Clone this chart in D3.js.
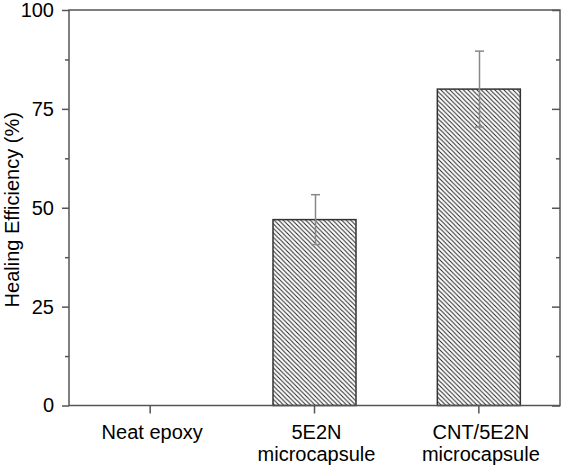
<!DOCTYPE html>
<html>
<head>
<meta charset="utf-8">
<script src="https://cdn.jsdelivr.net/npm/d3@7"></script>
<style>
  html, body { margin: 0; padding: 0; background: #fff; }
  svg { display: block; font-family: "Liberation Sans", Arial, sans-serif; }
</style>
</head>
<body>
<svg id="chart" width="562" height="465"></svg>
<script>
// ---- data ----
const categories = ["Neat epoxy", "5E2N\nmicrocapsule", "CNT/5E2N\nmicrocapsule"];
const values = [0, 47, 80];
const errors = [0, 6.3, 9.6];
const yTicks = [0, 25, 50, 75, 100];
const yMinorTicks = [12.5, 37.5, 62.5, 87.5];
const yTitle = "Healing Efficiency (%)";

// ---- layout ----
const svg = d3.select("#chart");
const mLeft = 69, mRight = 560, mTop = 10, mBottom = 405.5;
const axisColor = "#555";

const x = d3.scaleBand().domain(d3.range(categories.length)).range([68, 561]).paddingInner(0.49).paddingOuter(0.245);
const y = d3.scaleLinear().domain([0, 100]).range([mBottom, mTop]);

// hatch pattern
const defs = svg.append("defs");
const s = 4.5;
const pat = defs.append("pattern")
  .attr("id", "hatch").attr("patternUnits", "userSpaceOnUse")
  .attr("width", s).attr("height", s);
pat.append("path")
  .attr("d", `M0,0 L${s},${s} M-1,${s - 1} L1,${s + 1} M${s - 1},-1 L${s + 1},1`)
  .attr("stroke", "#222").attr("stroke-width", 1);

// bars
const bw = 83;
svg.append("g").selectAll("rect").data(values.map((v, i) => ({v, i})).filter(d => d.v > 0)).join("rect")
  .attr("x", d => x(d.i) + x.bandwidth() / 2 - bw / 2)
  .attr("y", d => y(d.v))
  .attr("width", bw)
  .attr("height", d => y(0) - y(d.v))
  .attr("fill", "url(#hatch)")
  .attr("stroke", "#333").attr("stroke-width", 1.5);

// error bars
const eg = svg.append("g").attr("stroke", "#888").attr("stroke-width", 1.5);
values.forEach((v, i) => {
  if (errors[i] <= 0) return;
  const cx = Math.round(x(i) + x.bandwidth() / 2) + 0.5;
  eg.append("line").attr("x1", cx).attr("x2", cx).attr("y1", y(v + errors[i])).attr("y2", y(v - errors[i]));
  [v + errors[i], v - errors[i]].forEach(e => {
    eg.append("line").attr("x1", cx - 4.5).attr("x2", cx + 4.5).attr("y1", y(e)).attr("y2", y(e));
  });
});

// left axis
const yAxis = d3.axisLeft(y).tickValues(yTicks).tickSize(7).tickPadding(8).tickFormat(d3.format("d"));
const gy = svg.append("g").attr("transform", `translate(${mLeft},0)`).call(yAxis);
gy.select(".domain").remove();
gy.selectAll(".tick line").attr("stroke", axisColor).attr("stroke-width", 1.5);
gy.selectAll(".tick text").attr("font-size", 20).attr("fill", "#000");
const gyMinor = svg.append("g").attr("transform", `translate(${mLeft},0)`)
  .call(d3.axisLeft(y).tickValues(yMinorTicks).tickSize(4).tickFormat(""));
gyMinor.select(".domain").remove();
gyMinor.selectAll(".tick line").attr("stroke", axisColor).attr("stroke-width", 1.5);

// right axis (inward ticks)
const gr = svg.append("g").attr("transform", `translate(${mRight},0)`)
  .call(d3.axisLeft(y).tickValues(yTicks).tickSize(8).tickFormat(""));
gr.select(".domain").remove();
gr.selectAll(".tick line").attr("stroke", axisColor).attr("stroke-width", 1.5);
const grm = svg.append("g").attr("transform", `translate(${mRight},0)`)
  .call(d3.axisLeft(y).tickValues(yMinorTicks).tickSize(4).tickFormat(""));
grm.select(".domain").remove();
grm.selectAll(".tick line").attr("stroke", axisColor).attr("stroke-width", 1.5);

// bottom axis
const gx = svg.append("g").attr("transform", `translate(0,${mBottom})`)
  .call(d3.axisBottom(x).tickSize(8).tickFormat(""));
gx.select(".domain").remove();
gx.selectAll(".tick line").attr("stroke", axisColor).attr("stroke-width", 1.5);
gx.selectAll(".tick").each(function(d) {
  const lines = categories[d].split("\n");
  const t = d3.select(this).append("text")
    .attr("text-anchor", "middle").attr("font-size", 20).attr("fill", "#000");
  lines.forEach((ln, k) => {
    t.append("tspan").attr("x", 2).attr("y", 33 + k * 22).text(ln);
  });
});

// frame
svg.append("rect").attr("x", mLeft).attr("y", mTop)
  .attr("width", mRight - mLeft).attr("height", mBottom - mTop)
  .attr("fill", "none").attr("stroke", axisColor).attr("stroke-width", 1.5);

// y title
svg.append("text")
  .attr("transform", `translate(19,${(mTop + mBottom) / 2 + 2}) rotate(-90)`)
  .attr("text-anchor", "middle").attr("font-size", 20).attr("fill", "#000")
  .text(yTitle);
</script>
</body>
</html>
